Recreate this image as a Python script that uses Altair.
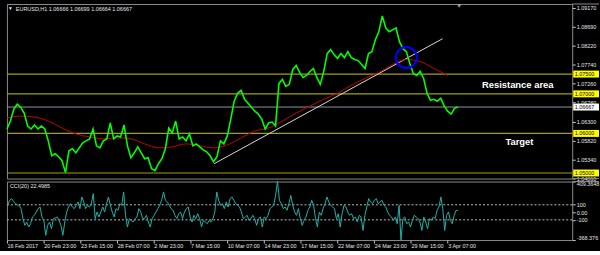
import altair as alt
import pandas as pd

# ---------------- data ----------------
SYMBOL = "EURUSD,H1"
OHLC = [1.06666, 1.06699, 1.06664, 1.06667]
CCI_NAME = "CCI(20)"
CCI_LAST = 22.4985

PRICE_STEP = 6
price_close = [
    1.06112, 1.06313, 1.06614, 1.06739, 1.06664, 1.06513, 1.06187, 1.06112, 1.06213, 1.06112,
    1.06187, 1.06112, 1.05812, 1.05436, 1.05486, 1.05411, 1.05310, 1.05010, 1.05561, 1.05611,
    1.05511, 1.05636, 1.05761, 1.05812, 1.05862, 1.06112, 1.05686, 1.05636, 1.05812, 1.05862,
    1.06263, 1.05862, 1.05937, 1.05912, 1.06213, 1.05686, 1.05386, 1.05511, 1.05661, 1.05511,
    1.05361, 1.05386, 1.05110, 1.05060, 1.05235, 1.05361, 1.05611, 1.06137, 1.06012, 1.06313,
    1.05862, 1.05912, 1.05812, 1.05987, 1.05686, 1.05736, 1.05661, 1.05586, 1.05536, 1.05436,
    1.05285, 1.05411, 1.05812, 1.05736, 1.05937, 1.06363, 1.06814, 1.07014, 1.07090, 1.06864,
    1.06764, 1.06664, 1.06563, 1.06488, 1.06363, 1.06112, 1.06263, 1.06288, 1.06187, 1.07265,
    1.07365, 1.07190, 1.07240, 1.07616, 1.07716, 1.07541, 1.07415, 1.07466, 1.07566, 1.07641,
    1.07415, 1.07240, 1.07566, 1.08017, 1.08117, 1.07992, 1.07892, 1.08017, 1.07917, 1.08067,
    1.07917, 1.07867, 1.07841, 1.07741, 1.07641, 1.08017, 1.08067, 1.08368, 1.08568, 1.08970,
    1.08668, 1.08568, 1.08618, 1.08668, 1.08318, 1.08142, 1.08067, 1.07766, 1.07516, 1.07466,
    1.07566, 1.07390, 1.07014, 1.06839, 1.06864, 1.06814, 1.06889, 1.06689, 1.06563, 1.06488,
    1.06639, 1.06667,
]

MA_STEP = 24
ma_values = [
    1.06388, 1.06438, 1.06413, 1.06313, 1.06137, 1.05987, 1.05912, 1.05862, 1.05887, 1.05862,
    1.05736, 1.05636, 1.05661, 1.05736, 1.05686, 1.05636, 1.05711, 1.05887, 1.06062, 1.06137,
    1.06313, 1.06513, 1.06689, 1.06864, 1.07014, 1.07215, 1.07390, 1.07541, 1.07741, 1.07867,
    1.07816, 1.07641, 1.07466,
]

CCI_START = 1.44
CCI_STEP = 3.31
cci_values = [
    102, 160, 182, 147, 115, 102, 93, 49, -84, -173,
    -129, -195, -151, -62, -40, 4, 49, 71, -62, -107,
    -306, -173, -129, -218, -84, -75, -62, -107, -173, -306,
    -129, 4, 71, 115, 71, 49, 93, 138, 49, 204,
    138, 49, 93, 71, 115, 249, -84, 4, -62, 4,
    71, 4, 115, 204, 93, 4, -62, 49, 27, 115,
    93, 271, -40, -195, -84, -107, -129, -84, -62, 49,
    4, -84, -84, -40, -129, -195, -84, -40, 4, 49,
    93, 160, 271, 160, 138, 93, 49, 27, -40, -84,
    -18, 4, -84, 4, 49, 71, -62, -129, -40, -84,
    -18, -84, -195, -107, -129, -151, -107, -129, -84, 4,
    271, 160, 93, 115, 49, 138, 71, 182, 204, 160,
    115, 93, 71, 4, -84, -62, -40, -107, -84, -40,
    -84, -173, -84, -62, -195, -62, -84, -40, 49, 71,
    93, 226, 409.3648, 160, 115, 49, 71, 27, 115, 226,
    93, 4, -40, 49, -84, -173, -107, -62, 27, 71,
    160, 93, -84, -195, 4, -40, 49, 115, 204, 138,
    93, 71, 49, -84, -18, -195, -18, 93, 71, 4,
    -40, -18, -84, -62, -129, -40, -62, -240, -40, 71,
    182, 138, 115, 160, 182, 115, 138, 160, 93, 71,
    4, -40, -62, -107, -62, -151, 93, -368.376, -84, -62,
    -151, -129, -195, -107, -40, -62, -84, -129, -240, -62,
    -129, -218, -84, -107, -62, -84, 27, 71, 204, 49,
    -240, -40, 4, -107, -151, -40, 27, 22.4985,
]

levels = [1.07500, 1.07000, 1.06000, 1.05000]
level_labels = ["1.07500", "1.07000", "1.06000", "1.05000"]
last_price = 1.06667
last_label = "1.06667"

trend_bars = [361, 759]
trend_prices = [1.05235, 1.08393]
circle_bar = [696]
circle_price = [1.07917]
shift_bar = [788]

note_texts = ["Resistance area", "Target"]
note_bars = [890, 893]
note_prices = [1.07215, 1.05787]

price_ticks = [1.09170, 1.08690, 1.08220, 1.07740, 1.07260, 1.06780, 1.06300, 1.05820, 1.05340, 1.04860]
time_tick_bars = [0, 64, 128, 192, 256, 320, 384, 448, 512, 576, 640, 704, 768]
time_tick_labels = ["16 Feb 2017", "20 Feb 23:00", "23 Feb 15:00", "28 Feb 07:00", "2 Mar 23:00",
                    "7 Mar 15:00", "10 Mar 07:00", "14 Mar 23:00", "17 Mar 15:00", "22 Mar 07:00",
                    "24 Mar 23:00", "29 Mar 15:00", "3 Apr 07:00"]
cci_ticks = [409.3648, 100, 0, -100, -368.376]
cci_tick_labels = ["409.3648", "100", "0.00", "-100", "-368.376"]
cci_bands = [100, -100]

X_MAX = 985
PRICE_MIN, PRICE_MAX = 1.04860, 1.09270
CCI_MIN, CCI_MAX = -368.376, 409.3648

# ---------------- styling ----------------
W, H1, H2 = 570, 176, 59
FONT = "Liberation Sans"
LBL = "#E6E6E6"
FRAME = "#8C8C8C"
OLIVE = "#A0A010"

xs = alt.Scale(domain=[0, X_MAX], nice=False, zero=False)
ps = alt.Scale(domain=[PRICE_MIN, PRICE_MAX], nice=False, zero=False)
cs = alt.Scale(domain=[CCI_MIN, CCI_MAX], nice=False, zero=False)

common_axis = dict(title=None, grid=False, domain=False, tickSize=3, tickColor="#C8C8C8",
                   labelColor=LBL, labelFont=FONT, labelFontSize=5.5, labelPadding=1,
                   labelOverlap=False, labelBound=False)

price_axis = alt.Axis(orient="right", values=price_ticks, format=".5f", labelFlush=False, **common_axis)


def js_list(vals):
    return "[" + ",".join(repr(v) if not isinstance(v, str) else "'" + v + "'" for v in vals) + "]"


cci_axis = alt.Axis(orient="right", values=cci_ticks, labelFlush=True,
                    labelExpr=js_list(cci_tick_labels) + "[indexof(" + js_list(cci_ticks) + ", datum.value)]",
                    **common_axis)
time_axis = alt.Axis(values=time_tick_bars, labelAlign="left", labelFlush=False,
                     labelExpr=js_list(time_tick_labels) + "[indexof(" + js_list(time_tick_bars) + ", datum.value)]",
                     **common_axis)


def X(f):
    return alt.X(f, type="quantitative", scale=xs, axis=None)


def PY(f):
    return alt.Y(f, type="quantitative", scale=ps, axis=price_axis)


def CY(f):
    return alt.Y(f, type="quantitative", scale=cs, axis=cci_axis)


df_price = pd.DataFrame({"bar": [i * PRICE_STEP for i in range(len(price_close))], "price": price_close})
df_ma = pd.DataFrame({"bar": [i * MA_STEP for i in range(len(ma_values))], "price": ma_values})
df_levels = pd.DataFrame({"price": levels})
df_last = pd.DataFrame({"price": [last_price]})
df_trend = pd.DataFrame({"bar": trend_bars, "price": trend_prices})
df_circle = pd.DataFrame({"bar": circle_bar, "price": circle_price})
df_notes = pd.DataFrame({"bar": note_bars, "price": note_prices, "text": note_texts})
df_hl = pd.DataFrame({"price": levels + [last_price], "label": level_labels + [last_label],
                      "bg": ["#FFFF00"] * len(levels) + ["#FFFFFF"]})
df_head = pd.DataFrame({"t": [SYMBOL + "  " + " ".join(f"{v:.5f}" for v in OHLC)]})
df_one = pd.DataFrame({"k": [0]})
df_shift = pd.DataFrame({"bar": shift_bar})
df_cci = pd.DataFrame({"bar": [CCI_START + i * CCI_STEP for i in range(len(cci_values))], "cci": cci_values})
df_bands = pd.DataFrame({"v": cci_bands})
df_cci_lbl = pd.DataFrame({"t": [f"{CCI_NAME} {CCI_LAST}"]})

BOX = "M-1,-0.27L1,-0.27L1,0.27L-1,0.27Z"

levels_l = alt.Chart(df_levels).mark_rule(color=OLIVE, strokeWidth=1.2).encode(y=PY("price"))
last_l = alt.Chart(df_last).mark_rule(color="#8E96A4", strokeWidth=1).encode(y=PY("price"))
ma_l = alt.Chart(df_ma).mark_line(color="#C80000", strokeWidth=1, interpolate="monotone").encode(x=X("bar"), y=PY("price"))
price_l = alt.Chart(df_price).mark_line(color="#00FF00", strokeWidth=1.6).encode(x=X("bar"), y=PY("price"))
trend_l = alt.Chart(df_trend).mark_line(color="#D8D8D8", strokeWidth=1).encode(x=X("bar"), y=PY("price"))
circle_l = alt.Chart(df_circle).mark_point(shape="circle", filled=False, size=452, color="#0000FF",
                                            strokeWidth=2, opacity=1).encode(x=X("bar"), y=PY("price"))
notes_l = alt.Chart(df_notes).mark_text(font=FONT, fontWeight="bold", fontSize=9.5,
                                        color="white", align="center", baseline="middle").encode(
    x=X("bar"), y=PY("price"), text="text:N")
box_l = alt.Chart(df_hl).mark_point(shape=BOX, filled=True, size=676, opacity=1, strokeWidth=0).encode(
    x=alt.value(W + 14), y=PY("price"), color=alt.Color("bg:N", scale=None))
boxtxt_l = alt.Chart(df_hl).mark_text(align="left", baseline="middle", fontSize=5.5, font=FONT,
                                      color="black").encode(x=alt.value(W + 2.5), y=PY("price"), text="label:N")
head_l = alt.Chart(df_head).mark_text(align="left", baseline="middle", fontSize=5.5, font=FONT,
                                      color=LBL).encode(x=alt.value(9), y=alt.value(4.7), text="t:N")
headtri_l = alt.Chart(df_one).mark_point(shape="triangle-down", filled=True, size=10, color=LBL,
                                         opacity=1).encode(x=alt.value(3.5), y=alt.value(4.7))
shift_l = alt.Chart(df_shift).mark_point(shape="triangle-down", filled=True, size=18, color="#A0A0A0",
                                         opacity=1).encode(x=X("bar"), y=alt.value(2))
frame_top = alt.Chart(df_one).mark_rule(color=FRAME, strokeWidth=1).encode(
    x=alt.value(W), x2=alt.value(W + 27), y=alt.value(0))
frame_bot = alt.Chart(df_one).mark_rule(color=FRAME, strokeWidth=1).encode(
    x=alt.value(W), x2=alt.value(W + 27), y=alt.value(H1))

main = alt.layer(levels_l, last_l, trend_l, ma_l, price_l, circle_l, notes_l, box_l, boxtxt_l,
                 head_l, headtri_l, shift_l, frame_top, frame_bot).properties(width=W, height=H1)

bands_l = alt.Chart(df_bands).mark_rule(color="#BEBEBE", strokeDash=[2, 2], strokeWidth=1).encode(y=CY("v"))
cci_l = alt.Chart(df_cci).mark_line(color="#20B2AA", strokeWidth=1).encode(
    x=alt.X("bar", type="quantitative", scale=xs, axis=time_axis), y=CY("cci"))
cci_lbl = alt.Chart(df_cci_lbl).mark_text(align="left", baseline="middle", fontSize=5.5, font=FONT,
                                          color=LBL).encode(x=alt.value(3), y=alt.value(4.7), text="t:N")
frame_cci = alt.Chart(df_one).mark_rule(color=FRAME, strokeWidth=1).encode(
    x=alt.value(W), x2=alt.value(W + 27), y=alt.value(0))

cci = alt.layer(bands_l, cci_l, cci_lbl, frame_cci).properties(width=W, height=H2)

chart = alt.vconcat(main, cci, spacing=3, bounds="flush").properties(
    padding={"left": 3, "top": 2, "right": 0, "bottom": 0},
    background="black",
).configure_view(stroke=FRAME, strokeWidth=1)

chart.save("out.html", embed_options={"renderer": "svg", "actions": False})
